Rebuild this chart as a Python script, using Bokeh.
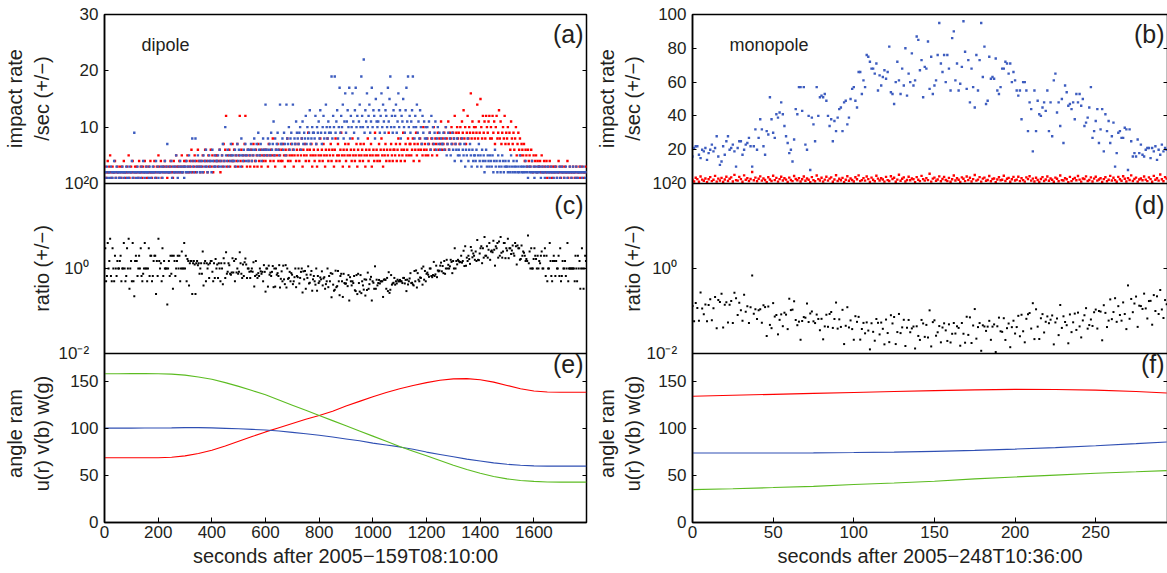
import math
import numpy as np
from bokeh.plotting import figure
from bokeh.models import (Range1d, LinearScale, LogScale, LinearAxis, FixedTicker,
                          CustomJSTickFormatter, AllLabels, Label, Span)
from bokeh.layouts import row
from bokeh.embed import file_html
from bokeh.resources import INLINE

FONT = "Liberation Sans"
RED = "#ff0000"
BLUE = "#3d5cbf"
BLUE_LINE = "#2f4fb3"
GREEN = "#5cbc22"
TXT = "#231f20"

# ---------------- dipole (left) : impact rates, 3 s samples ----------------
dipole_step = 3
dipole_minus = [  # blue, counts / sec
    2,1,2,3,1,2,2,1,3,2,1,2,4,2,1,3,2,2,1,2,
    1,2,3,2,1,2,2,3,1,2,1,3,2,2,4,1,2,9,2,1,
    2,3,1,2,2,1,3,2,4,2,1,2,3,2,2,1,3,2,1,2,
    3,2,2,1,4,2,3,1,2,2,3,2,1,3,2,4,2,3,7,2,
    2,3,2,4,1,3,2,2,3,5,2,1,3,2,4,3,2,2,3,1,
    3,2,4,3,2,5,3,2,4,8,3,2,4,8,3,2,5,3,4,2,
    3,4,2,5,3,4,6,3,2,4,5,3,4,2,6,4,3,5,3,4,
    4,5,3,6,4,3,5,7,4,3,10,5,4,6,3,5,4,7,5,4,
    5,4,6,3,5,7,4,6,5,3,8,5,4,6,5,7,4,5,6,4,
    6,5,7,4,6,5,8,6,4,7,5,9,6,5,7,4,6,8,5,6,
    14,6,5,8,6,7,5,9,6,7,11,5,8,6,7,9,6,5,14,7,
    7,8,6,9,7,5,14,8,7,10,6,8,9,7,14,6,8,7,11,9,
    8,7,9,10,6,8,11,7,9,8,12,7,10,8,9,13,7,8,10,9,
    9,8,12,7,10,9,11,8,13,9,7,10,12,8,9,14,10,8,11,9,
    10,9,19,8,12,10,19,9,11,13,8,10,17,9,12,10,14,8,11,16,
    9,11,13,10,17,8,12,10,16,11,9,13,17,10,12,8,11,14,10,19,
    12,10,22,9,13,11,16,10,12,14,9,11,17,10,13,12,8,15,11,10,
    11,13,9,12,16,10,14,11,9,13,12,10,17,11,15,19,10,12,9,13,
    10,12,14,9,11,16,10,13,8,12,11,15,10,9,13,17,11,19,10,12,
    9,11,13,19,10,8,12,10,14,9,11,8,13,10,7,12,9,11,8,10,
    8,10,7,11,9,6,12,8,10,7,9,11,6,8,10,7,9,6,8,7,
    7,9,6,8,10,5,7,9,6,8,5,7,9,6,8,4,7,6,8,5,
    6,5,7,4,8,6,5,7,3,6,5,8,4,6,7,5,3,6,4,5,
    5,4,6,3,5,7,4,5,3,6,4,5,2,4,6,3,5,4,3,5,
    4,3,5,2,4,6,3,4,2,5,3,4,2,3,5,4,2,3,4,3,
    3,2,4,3,2,5,3,2,4,3,2,3,4,2,3,2,5,3,2,3,
    2,3,2,4,3,2,1,3,2,3,2,4,2,3,1,2,3,2,2,3,
    2,3,1,2,3,2,2,1,3,2,2,3,2,1,2,3,2,2,1,2,
    3,2,1,2,2,3,1,2,3,2,2,1,2,3,2,1,2,2,3,2,
    1,2,3,2,2,1,3,2,1,2,2,3,2,1,2,3,2,1,2,
]
dipole_plus = [  # red, counts / sec
    2,3,1,2,4,2,3,5,2,1,3,2,2,4,1,2,3,2,1,3,
    2,1,3,2,4,2,1,2,3,2,5,1,2,3,2,4,1,2,3,2,
    3,2,1,4,2,3,2,1,3,2,4,2,3,1,2,3,2,4,2,1,
    2,3,4,2,1,3,2,5,3,2,4,1,3,2,3,4,2,3,1,2,
    3,2,4,3,2,1,4,3,2,5,3,2,3,4,2,3,5,2,3,4,
    3,4,2,5,3,2,4,3,6,2,4,3,5,2,4,3,6,4,3,2,
    4,3,5,2,4,6,3,4,2,5,3,4,6,3,5,2,4,3,5,4,
    5,3,4,6,2,4,5,3,7,4,6,12,3,5,4,6,3,5,4,7,
    4,6,3,5,4,7,3,5,12,4,6,3,5,4,7,12,5,3,6,4,
    5,3,6,4,5,7,3,4,6,5,3,7,4,5,6,3,5,4,6,5,
    4,6,5,3,7,5,4,6,5,8,4,5,3,6,5,7,4,6,5,4,
    6,4,7,5,3,6,5,8,4,6,5,4,7,5,6,3,5,7,4,6,
    5,7,4,6,5,8,3,6,5,7,4,5,6,9,4,6,5,7,3,5,
    6,4,5,7,3,6,5,4,8,5,6,4,7,5,3,6,5,8,4,6,
    5,7,4,6,5,3,6,8,4,5,7,5,4,6,9,5,3,6,5,7,
    4,6,5,7,3,5,6,4,8,5,6,4,5,7,3,6,5,4,7,5,
    6,4,7,5,3,6,5,8,4,6,5,7,3,5,6,4,9,5,6,4,
    5,7,4,6,8,5,3,6,5,7,4,6,5,9,4,6,7,5,4,6,
    6,5,7,4,6,8,5,7,4,6,5,9,6,4,7,5,6,8,5,7,
    7,5,6,8,4,7,6,9,5,7,6,4,8,6,7,5,10,6,7,5,
    6,8,5,7,9,6,8,5,7,10,6,8,7,5,9,6,8,7,11,6,
    8,7,9,6,10,8,7,11,6,9,8,10,7,9,8,12,7,9,10,8,
    9,7,10,8,11,9,13,8,10,7,9,12,8,10,9,16,8,11,9,10,
    8,10,9,14,8,11,9,15,10,8,12,9,11,8,12,10,9,11,12,8,
    10,8,12,9,11,7,10,12,8,9,13,8,11,7,9,10,8,12,7,9,
    8,10,7,9,6,11,8,7,9,6,8,10,5,7,9,6,8,5,7,6,
    5,7,4,6,5,3,6,4,5,3,6,4,2,5,3,4,5,2,4,3,
    3,4,2,5,3,2,4,3,2,4,1,3,2,4,3,2,1,3,2,3,
    2,3,1,2,4,2,3,1,2,3,2,1,3,2,2,4,1,2,3,2,
    1,2,3,2,1,2,3,1,2,2,3,1,2,3,2,1,2,2,3,
]

# dipole look angles (deg) vs time
dipole_ang_t = [0,50,100,150,200,250,300,350,400,450,500,550,600,650,700,750,800,850,
                900,950,1000,1050,1100,1150,1200,1250,1300,1350,1400,1450,1500,1550,
                1600,1650,1700,1750,1796]
dipole_u = [69,69,69,69,69,69.5,71,73.5,77,81.5,86.5,91.5,96.5,101,105.5,110,114,118.5,
            124,129,134,138.5,142.5,146,149,151.5,153,153.2,152,149.5,146,142.5,
            140,139,138.7,138.7,138.7]
dipole_v = [100.5,100.5,100.5,100.6,100.7,100.8,101,101,100.8,100.3,99.8,99.2,98.5,97.5,
            96,94.5,93,91,89,87,84.5,82.5,80.5,78,75,72.5,70,67.5,65.5,63.5,62,61,
            60.3,60,60,60,60]
dipole_w = [158.5,158.5,158.6,158.6,158.5,158,157,155,152.5,149,145,140.5,136,130.5,125,
            119.5,114,108.5,103,97.5,92,86.5,81,76,71,66,61,56.5,52.5,49,46.5,44.8,
            43.8,43.2,43,43,43]

# ---------------- monopole (right) : 1 s samples ----------------
mono_minus = [  # blue
    16,21,22,22,17,15,20,19,21,14,18,20,23,19,21,28,16,11,13,22,
    17,25,28,20,21,23,19,10,21,25,25,17,20,23,24,27,22,10,22,32,
    20,27,38,32,22,17,31,29,51,38,30,27,41,39,42,48,41,34,28,24,
    18,20,13,26,44,41,57,57,43,57,23,20,40,8,39,35,25,57,40,51,
    52,51,53,49,40,34,38,25,37,31,39,44,45,31,48,49,35,39,50,56,
    57,49,45,66,66,53,61,57,76,75,72,68,68,65,71,55,64,
    58,63,67,62,66,81,54,53,47,60,72,61,53,68,58,80,52,65,60,77,
    58,61,87,85,67,73,51,69,68,84,56,75,53,58,61,76,95,71,66,76,
    60,76,68,55,86,90,61,71,55,59,69,96,78,56,73,48,68,57,45,76,
    55,73,95,63,81,47,49,75,62,63,62,74,55,53,57,68,68,72,71,65,
    71,60,66,61,55,52,55,38,60,60,55,31,48,44,19,55,31,49,41,40,
    45,48,43,55,31,48,28,61,65,42,48,34,50,24,58,54,46,47,44,48,
    38,53,48,53,46,50,34,36,39,45,57,27,31,37,44,24,32,44,19,41,
    31,37,24,28,36,10,18,30,31,27,27,33,32,8,32,25,16,18,16,26,
    18,23,17,16,20,21,21,15,21,19,22,14,20,17,23,19,21,20,
]
mono_plus = [  # red
    2.1,1.2,3.4,2.6,1.0,4.1,2.3,1.6,3.0,0.8,2.5,3.8,1.4,2.2,4.5,1.1,2.9,1.8,3.3,0.9,
    2.4,4.0,1.5,2.8,3.6,1.2,5.1,2.0,1.7,3.9,2.6,1.0,4.8,2.2,3.1,1.4,2.7,6.8,1.9,3.5,
    1.3,2.8,4.2,1.7,3.0,2.1,0.8,3.7,2.4,1.5,4.6,2.0,3.3,1.1,2.6,4.0,1.8,3.1,2.3,0.9,
    3.5,2.1,1.4,4.4,2.7,1.9,3.2,1.2,2.5,4.1,1.6,3.0,2.2,0.7,3.8,2.0,1.3,4.7,2.6,1.8,
    3.4,1.1,2.3,4.0,1.7,2.9,3.6,1.0,2.4,4.9,1.5,2.8,1.9,3.3,0.8,2.2,4.3,1.6,3.0,2.1,
    1.2,3.7,2.5,4.8,1.4,2.0,3.2,1.7,4.1,2.6,0.9,3.5,2.2,1.3,4.6,2.9,1.8,3.1,2.4,1.1,
    3.9,2.0,1.5,4.3,2.7,3.4,1.0,2.3,5.2,1.6,2.8,3.6,1.2,2.1,4.0,1.9,3.0,2.5,0.8,3.8,
    2.2,1.4,4.5,2.6,1.7,3.2,2.0,5.8,1.1,2.9,3.5,1.6,2.4,4.2,1.3,2.7,3.9,2.1,1.5,3.3,
    1.0,2.5,4.7,1.8,3.1,2.2,0.9,3.6,2.8,1.4,4.1,2.0,3.4,1.2,2.6,5.0,1.7,2.3,3.8,1.1,
    2.9,3.5,1.6,2.1,4.4,1.3,2.7,3.0,0.8,2.4,3.7,1.9,2.2,4.6,1.5,2.8,3.3,1.0,2.5,3.9,
    1.8,2.3,4.0,1.4,3.1,2.0,1.1,3.6,2.6,4.3,1.7,2.9,1.2,3.4,2.1,0.9,2.7,3.8,1.5,2.4,
    4.1,1.6,3.0,2.2,1.0,3.5,2.8,1.3,4.7,2.0,1.8,3.2,2.5,0.8,3.9,1.4,2.6,3.3,1.9,4.4,
    2.3,1.1,3.0,2.7,4.2,1.5,2.1,3.6,1.2,2.9,4.0,1.7,2.4,3.1,0.9,2.6,3.7,1.3,2.2,4.5,
    1.8,3.4,2.0,1.0,3.9,2.5,1.6,4.3,2.8,1.2,3.2,2.1,4.8,1.5,2.7,3.5,1.1,2.4,3.0,1.9,
    4.1,2.3,1.4,3.6,2.6,1.0,4.5,2.2,3.1,1.7,5.3,2.5,1.3,3.8,2.9,
]
mono_ang_t = [0,25,50,75,100,125,150,175,200,225,250,275,294]
mono_u = [134.5,135.5,136.5,137.5,138.5,139.5,140.5,141.3,141.8,141.7,141,139.5,138]
mono_v = [74,74,74,74.2,74.5,75,75.8,76.8,78.2,79.8,81.8,84,85.8]
mono_w = [35,36,37.2,38.5,40.5,42,44,46.5,48.5,50.5,52.5,54,55.3]

# y titles: inner line (closest to the axis) and outer line, per panel
titles_inner = ["u(r) v(b) w(g)", "ratio (+/\u2212)", "/sec (+/\u2212)"]
titles_outer = ["angle ram", "impact rate"]

# ---------------- layout constants ----------------
H_E, H_C, H_A = 169, 170, 169          # panel heights (px) bottom -> top
H = H_E + H_C + H_A
E_MAX = 180.0
TICK_FS = "17px"
TITLE_FS = "20px"


def list_formatter(pos, lab):
    return CustomJSTickFormatter(args=dict(pos=pos, lab=lab), code="""
        for (let i = 0; i < pos.length; i++) { if (Math.abs(pos[i] - tick) < 1e-6) return lab[i]; }
        return "";""")


def build(x_end, frame_w, border_l, border_r, x_ticks, x_title, rate_max, rate_ticks,
          step, minus, plus, ang_t, u, v, w, name, tags, title_standoff):
    p = figure(frame_width=frame_w, frame_height=H, x_range=Range1d(0, x_end),
               y_range=Range1d(0, H), x_axis_type=None, y_axis_type=None,
               output_backend="svg", toolbar_location=None,
               min_border_left=border_l, min_border_right=border_r,
               min_border_top=14, min_border_bottom=46,
               background_fill_color="white", border_fill_color="white")
    p.outline_line_color = "black"
    p.outline_line_width = 1.5
    p.extra_y_ranges = {
        "a": Range1d(-(H_E + H_C) * rate_max / H_A, rate_max),
        "c": Range1d(10 ** (-2 - H_E * 4 / H_C), 10 ** (2 + H_A * 4 / H_C)),
        "e": Range1d(0, E_MAX * H / H_E),
    }
    p.extra_y_scales = {"a": LinearScale(), "c": LogScale(), "e": LinearScale()}

    n = min(len(minus), len(plus))
    t = np.arange(n) * step
    mi = np.array(minus[:n], dtype=float)
    pl = np.array(plus[:n], dtype=float)
    ratio = pl / mi
    keep = (ratio >= 0.01) & (ratio <= 100)

    # (a)/(b) impact rates
    p.scatter(t, pl, y_range_name="a", marker="square", size=2.4,
              fill_color=RED, line_color=None)
    p.scatter(t, mi, y_range_name="a", marker="square", size=2.4,
              fill_color=BLUE, line_color=None)
    # (c)/(d) ratio
    p.scatter(t[keep], ratio[keep], y_range_name="c", marker="square", size=2.0,
              fill_color="black", line_color=None)
    # (e)/(f) angles
    p.line(ang_t, u, y_range_name="e", line_color=RED, line_width=1.1)
    p.line(ang_t, v, y_range_name="e", line_color=BLUE_LINE, line_width=1.1)
    p.line(ang_t, w, y_range_name="e", line_color=GREEN, line_width=1.1)

    # panel separators
    p.add_layout(Span(location=0, dimension="width", y_range_name="a",
                      line_color="black", line_width=1.5))
    p.add_layout(Span(location=0.01, dimension="width", y_range_name="c",
                      line_color="black", line_width=1.5))

    # composite left axis (tick numbers of the three panels)
    pos, lab = [], []
    for val in [0, 50, 100, 150]:
        pos.append(val * H_E / E_MAX); lab.append(str(val))
    c_lab = {0.01: "10\u207b\u00b2\u2007", 1: "10\u2070\u2007", 100: "10\u00b2\u2007"}
    for val in [0.01, 1, 100]:
        q = H_E + (math.log10(val) + 2) * H_C / 4
        if val == 100:
            q += 0.001
        pos.append(q); lab.append(c_lab[val])
    for val in rate_ticks:
        pos.append(H_E + H_C + val * H_A / rate_max); lab.append(str(val))
    order = sorted(range(len(pos)), key=lambda i: pos[i])
    pos = [pos[i] for i in order]
    lab = [lab[i] for i in order]
    yax = LinearAxis(ticker=FixedTicker(ticks=pos), formatter=list_formatter(pos, lab),
                     major_label_policy=AllLabels(), major_tick_in=4, major_tick_out=0,
                     minor_tick_line_color=None, axis_line_width=1.5,
                     major_label_standoff=6, major_label_text_font=FONT,
                     major_label_text_font_size=TICK_FS, major_label_text_color=TXT)
    p.add_layout(yax, "left")

    # y titles as rotated labels of two extra tick-less axes (inner, then outer line)
    c_e, c_c, c_a = 89, 254, 424
    s_in, s_out = title_standoff
    for tpos, tlab, so in [([c_e, c_c, c_a], titles_inner, s_in),
                           ([c_e, c_a], titles_outer, s_out)]:
        tax = LinearAxis(ticker=FixedTicker(ticks=tpos), formatter=list_formatter(tpos, tlab),
                         major_label_policy=AllLabels(), major_label_orientation="parallel",
                         major_tick_line_color=None, minor_tick_line_color=None,
                         axis_line_color=None, major_tick_in=0, major_tick_out=0,
                         major_label_standoff=so, major_label_text_font=FONT,
                         major_label_text_font_size=TITLE_FS, major_label_text_color=TXT)
        p.add_layout(tax, "left")

    rax = LinearAxis(ticker=FixedTicker(ticks=pos),
                     formatter=CustomJSTickFormatter(code="return '';"),
                     major_tick_in=4, major_tick_out=0, minor_tick_line_color=None,
                     axis_line_color=None, major_label_standoff=0,
                     major_label_text_font_size="1px")
    p.add_layout(rax, "right")

    xax = LinearAxis(ticker=FixedTicker(ticks=x_ticks), major_tick_in=5, major_tick_out=0,
                     minor_tick_line_color=None, axis_line_width=1.5,
                     major_label_standoff=3, major_label_text_font=FONT,
                     major_label_text_font_size=TICK_FS, major_label_text_color=TXT,
                     axis_label=x_title, axis_label_text_font=FONT,
                     axis_label_text_font_size=TITLE_FS, axis_label_text_font_style="normal",
                     axis_label_text_color=TXT, axis_label_standoff=4)
    p.add_layout(xax, "below")

    sx = x_end / frame_w  # data units per pixel

    def tag(x, y, rng, text, size, align="left"):
        p.add_layout(Label(x=x, y=y, y_range_name=rng, text=text, text_font=FONT,
                           text_font_size=size, text_align=align, text_baseline="middle",
                           text_color=TXT))

    # panel tags
    tag(37 * sx, 24.5 * rate_max / 30, "a", name, "18px")
    tag(x_end - 3 * sx, 26.5 * rate_max / 30, "a", tags[0], "25px", align="right")
    tag(x_end - 3 * sx, 31.6, "c", tags[1], "25px", align="right")
    tag(x_end - 3 * sx, 168.8, "e", tags[2], "25px", align="right")
    return p


left = build(1796, 482, 103, 2, [0, 200, 400, 600, 800, 1000, 1200, 1400, 1600],
             "seconds after 2005\u2212159T08:10:00", 30, [0, 10, 20, 30],
             dipole_step, dipole_minus, dipole_plus,
             dipole_ang_t, dipole_u, dipole_v, dipole_w,
             "dipole", ["(a)", "(c)", "(e)"], (3, 2))
right = build(294.5, 475, 104, 1, [0, 50, 100, 150, 200, 250],
              "seconds after 2005\u2212248T10:36:00", 100, [0, 20, 40, 60, 80, 100],
              1, mono_minus, mono_plus,
              mono_ang_t, mono_u, mono_v, mono_w,
              "monopole", ["(b)", "(d)", "(f)"], (0, 1))

layout = row(left, right)
open("out.html", "w").write(file_html(layout, INLINE))
